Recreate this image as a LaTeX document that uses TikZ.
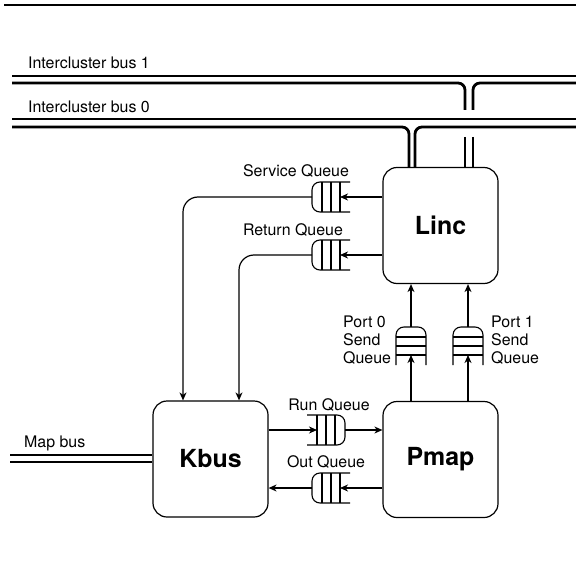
\documentclass[tikz,border=0pt]{standalone}
\usepackage{fontspec}
\setmainfont{TeX Gyre Heros}
\usetikzlibrary{arrows.meta,calc}

\tikzset{
  unit/.style={draw, rounded corners=14bp, line width=1.2bp, minimum width=115bp,
    minimum height=116bp, font=\fontsize{25}{28}\selectfont\bfseries},
  lbl/.style={inner sep=0pt, font=\fontsize{16}{18}\selectfont},
  bus/.style={line width=2.8bp},
  flow/.style={line width=1.2bp, -{Stealth[length=8bp, width=7bp, inset=2.5bp]}},
  qline/.style={line width=1.1bp},
  queue/.pic={
    \draw[qline, rounded corners=8bp] (19,-15) -- (-19,-15) -- (-19,15) -- (19,15);
    \foreach \d in {-9,0,9} \draw[qline] (\d,-15) -- (\d,15);
    \coordinate (-open) at (9,0);
    \coordinate (-cap) at (-19,0);
  }
}

\begin{document}
\begin{tikzpicture}[x=1bp, y=-1bp]
    \useasboundingbox (0,0) rectangle (576,579);

    % Draw nodes
    \node[unit] (linc) at (440.5,225.5) {Linc};
    \node[unit] (kbus) at (210.5,459) {Kbus};
    \node[unit] (pmap) at (440.5,459.5) {Pmap};

    % Queues
    \pic (svcq) at (331,197) {queue};
    \pic (retq) at (331,255) {queue};
    \pic[rotate=180] (runq) at (326,430) {queue};
    \pic (outq) at (331,488) {queue};
    \pic[rotate=-90] (p0q) at (411,346) {queue};
    \pic[rotate=-90] (p1q) at (468,346) {queue};

    % Buses
    \draw[line width=1.6bp] (4,5) -- (576,5);
    \draw[bus] (12,76) -- (576,76);
    \draw[bus, rounded corners=7bp] (12,83) -| (465,110);
    \draw[bus, rounded corners=7bp] (576,83) -| (473,110);
    \draw[bus] (465,137) -- (465,0 |- linc.north);
    \draw[bus] (473,137) -- (473,0 |- linc.north);
    \draw[bus] (12,119) -- (576,119);
    \draw[bus, rounded corners=7bp] (12,127) -| (409,0 |- linc.north);
    \draw[bus, rounded corners=7bp] (576,127) -| (415,0 |- linc.north);
    \draw[bus] (10,455) -- (kbus.west |- 0,455);
    \draw[bus] (10,462) -- (kbus.west |- 0,462);

    % Draw connections
    \draw[flow] (linc.west |- svcq-open) -- (svcq-open);
    \draw[flow] (linc.west |- retq-open) -- (retq-open);
    \draw[flow, rounded corners=15bp] (svcq-cap) -| (183,0 |- kbus.north);
    \draw[flow, rounded corners=15bp] (retq-cap) -| (239,0 |- kbus.north);
    \draw[flow] (kbus.east |- runq-open) -- (runq-open);
    \draw[flow] (runq-cap) -- (pmap.west |- runq-cap);
    \draw[flow] (pmap.west |- outq-open) -- (outq-open);
    \draw[flow] (outq-cap) -- (kbus.east |- outq-cap);
    \draw[flow] (p0q-open |- pmap.north) -- (p0q-open);
    \draw[flow] (p1q-open |- pmap.north) -- (p1q-open);
    \draw[flow] (p0q-cap) -- (p0q-cap |- linc.south);
    \draw[flow] (p1q-cap) -- (p1q-cap |- linc.south);

    % Labels
    \node[lbl, anchor=west] (ib1) at (28,63) {Intercluster bus 1};
    \node[lbl, anchor=west] (ib0) at (28,107) {Intercluster bus 0};
    \node[lbl, anchor=west] (mapbus) at (24,443) {Map bus};
    \node[lbl] (svcl) at (296,171) {Service Queue};
    \node[lbl] (retl) at (293,230) {Return Queue};
    \node[lbl] (runl) at (329,405) {Run Queue};
    \node[lbl] (outl) at (326,462) {Out Queue};
    \node[lbl, anchor=north west, align=left] (p0l) at (343,316) {Port 0\\Send\\Queue};
    \node[lbl, anchor=north west, align=left] (p1l) at (491,316) {Port 1\\Send\\Queue};
\end{tikzpicture}
\end{document}
